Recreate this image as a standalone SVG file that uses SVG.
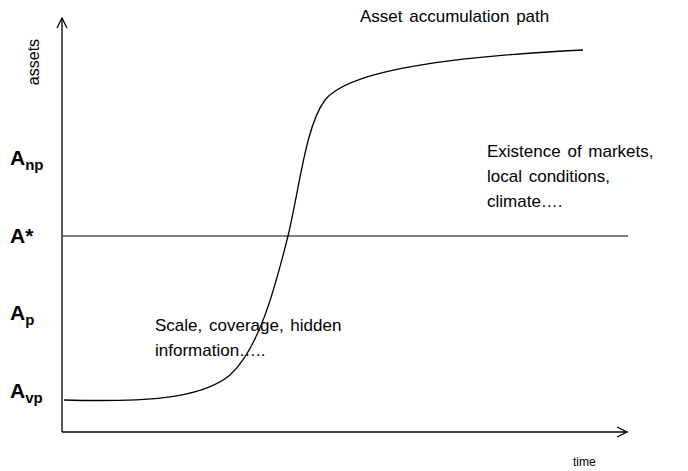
<svg xmlns="http://www.w3.org/2000/svg" width="688" height="471" viewBox="0 0 688 471">
<style>
.t{font-family:"Liberation Sans",Arial,sans-serif;fill:#000}
.lab{font-size:17px;word-spacing:2px}
.ax{font-family:"Liberation Sans",Arial,sans-serif;font-weight:bold;font-size:21px}
.sub{font-size:15px}
.ln{stroke:#000;stroke-width:1.3;fill:none}
</style>
<defs>
<marker id="ah" viewBox="0 0 12 12" refX="11" refY="6" markerWidth="12" markerHeight="12" markerUnits="userSpaceOnUse" orient="auto">
<path d="M1,1 L11,6 L1,11" fill="none" stroke="#000" stroke-width="1.3"/>
</marker>
</defs>
<g id="connectors">
<line class="ln" x1="62" y1="432" x2="62" y2="18" marker-end="url(#ah)"/>
<line class="ln" x1="62" y1="432" x2="627" y2="432" marker-end="url(#ah)"/>
<line x1="62" y1="236" x2="628" y2="236" stroke="#555" stroke-width="1.3"/>
<path class="ln" stroke-width="1.1" d="M64,400 C140,402 200,400 230,375 C258,350 274,292 288,236 C300,185 306,125 325,100 C345,75 420,58 583,50"/>
</g>
<g id="assets-label"><text class="t" font-size="16" transform="translate(39,62) rotate(-90)" text-anchor="middle">assets</text></g>
<g id="time-label"><text class="t" font-size="12" x="573" y="466">time</text></g>
<g id="title"><text class="t lab" x="360" y="22">Asset accumulation path</text></g>
<g id="existence"><text class="t lab" x="487" y="157">Existence of markets,</text><text class="t lab" x="487" y="182">local conditions,</text><text class="t lab" x="487" y="207">climate….</text></g>
<g id="scale"><text class="t lab" x="155" y="331">Scale, coverage, hidden</text><text class="t lab" x="155" y="356">information…..</text></g>
<g id="A-np"><text class="ax" x="10" y="165">A<tspan class="sub" dy="5">np</tspan></text></g>
<g id="A-star"><text class="ax" x="10" y="243">A*</text></g>
<g id="A-p"><text class="ax" x="10" y="320">A<tspan class="sub" dy="5">p</tspan></text></g>
<g id="A-vp"><text class="ax" x="10" y="398">A<tspan class="sub" dy="5">vp</tspan></text></g>
</svg>
